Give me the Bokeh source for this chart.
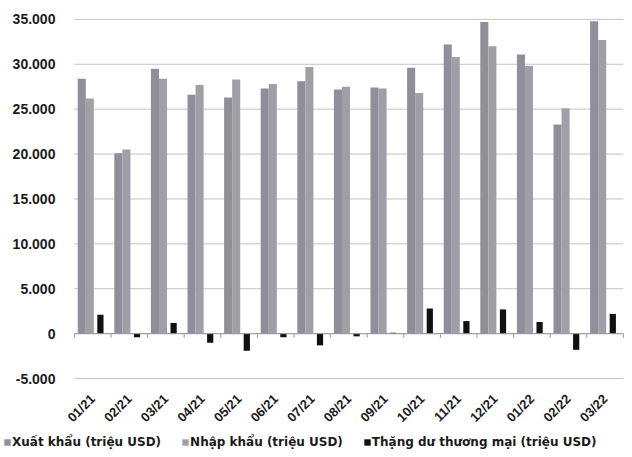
import math
from bokeh.plotting import figure
from bokeh.models import (ColumnDataSource, Range1d, Legend, LegendItem, LinearAxis,
                          FixedTicker, CustomJSTickFormatter)
from bokeh.embed import file_html
from bokeh.resources import INLINE

months = ["01/21", "02/21", "03/21", "04/21", "05/21", "06/21", "07/21", "08/21",
          "09/21", "10/21", "11/21", "12/21", "01/22", "02/22", "03/22"]
exports = [28400, 20100, 29500, 26600, 26300, 27300, 28100, 27200,
           27400, 29600, 32200, 34700, 31100, 23300, 34800]
imports = [26200, 20500, 28400, 27700, 28300, 27800, 29700, 27500,
           27300, 26800, 30800, 32000, 29800, 25100, 32700]
surplus = [2100, -400, 1200, -1000, -1900, -400, -1300, -300,
           100, 2800, 1400, 2700, 1300, -1800, 2200]
y_ticks = [-5000, 0, 5000, 10000, 15000, 20000, 25000, 30000, 35000]
series_names = ["Xuất khẩu (triệu USD)", "Nhập khẩu (triệu USD)",
                "Thặng dư thương mại (triệu USD)"]

FONT = "Liberation Sans"
TXT = "#1a1a1a"
GRID = "#c4c4c4"

n = len(months)
centers = [i + 0.5 for i in range(n)]
src = ColumnDataSource(dict(
    x_exp=[c - 0.30 for c in centers], x_imp=[c - 0.08 for c in centers],
    x_sur=[c + 0.21 for c in centers], exp=exports, imp=imports, sur=surplus))

# whole figure is the frame, so that nothing (legend included) is clipped
W, H = 624, 449
p = figure(width=W, height=H,
           x_range=Range1d(-2.02, n + 0.03), y_range=Range1d(-12900, 37100),
           x_axis_location=None, y_axis_location=None,
           min_border=0, min_border_left=0, min_border_right=0,
           min_border_top=0, min_border_bottom=0,
           output_backend="svg", toolbar_location=None,
           background_fill_color="white", border_fill_color="white")
p.outline_line_color = None
p.grid.visible = False

# horizontal gridlines across the category area
p.segment(x0=[0] * len(y_ticks), x1=[n] * len(y_ticks), y0=y_ticks, y1=y_ticks,
          line_color=GRID, line_width=1)

yaxis = LinearAxis(fixed_location=0, ticker=FixedTicker(ticks=y_ticks),
                   formatter=CustomJSTickFormatter(
                       code="return tick.toLocaleString('de-DE');"))
yaxis.axis_line_color = None
yaxis.major_tick_line_color = None
yaxis.minor_tick_line_color = None
yaxis.major_label_text_font = FONT
yaxis.major_label_text_font_style = "bold"
yaxis.major_label_text_font_size = "14px"
yaxis.major_label_text_color = TXT
yaxis.major_label_standoff = 13
p.add_layout(yaxis, "left")

xaxis = LinearAxis(fixed_location=y_ticks[0], ticker=FixedTicker(ticks=centers),
                   major_label_overrides={c: m for c, m in zip(centers, months)})
xaxis.axis_line_color = None
xaxis.major_tick_line_color = None
xaxis.minor_tick_line_color = None
xaxis.major_label_orientation = math.pi / 4
xaxis.major_label_text_font = FONT
xaxis.major_label_text_font_style = "bold"
xaxis.major_label_text_font_size = "13px"
xaxis.major_label_text_color = TXT
xaxis.major_label_standoff = 12
p.add_layout(xaxis, "below")

r_exp = p.vbar(x="x_exp", top="exp", width=0.22, source=src,
               fill_color="#8f8e99", line_color=None)
r_imp = p.vbar(x="x_imp", top="imp", width=0.22, source=src,
               fill_color="#a09fa8", line_color=None)
r_sur = p.vbar(x="x_sur", top="sur", bottom=0, width=0.17, source=src,
               fill_color="#111111", line_color=None)

# zero line with category tick marks
bounds = list(range(n + 1))
p.segment(x0=[0], x1=[n], y0=[0], y1=[0], line_color="#9a9a9a", line_width=1)
p.segment(x0=bounds, y0=[0] * len(bounds), x1=bounds, y1=[-450] * len(bounds),
          line_color="#9a9a9a", line_width=1)

legend = Legend(items=[LegendItem(label=series_names[0], renderers=[r_exp]),
                       LegendItem(label=series_names[1], renderers=[r_imp]),
                       LegendItem(label=series_names[2], renderers=[r_sur])],
                orientation="horizontal", location=(3, 0))
legend.label_text_font = "DejaVu Sans"
legend.label_text_font_style = "bold"
legend.label_text_font_size = "12px"
legend.label_text_color = TXT
legend.glyph_width = 8
legend.glyph_height = 8
legend.label_standoff = 1
legend.spacing = 20
legend.padding = 0
legend.margin = 0
legend.border_line_color = None
legend.background_fill_alpha = 0
p.add_layout(legend, "center")

open("out.html", "w").write(file_html(p, INLINE))
